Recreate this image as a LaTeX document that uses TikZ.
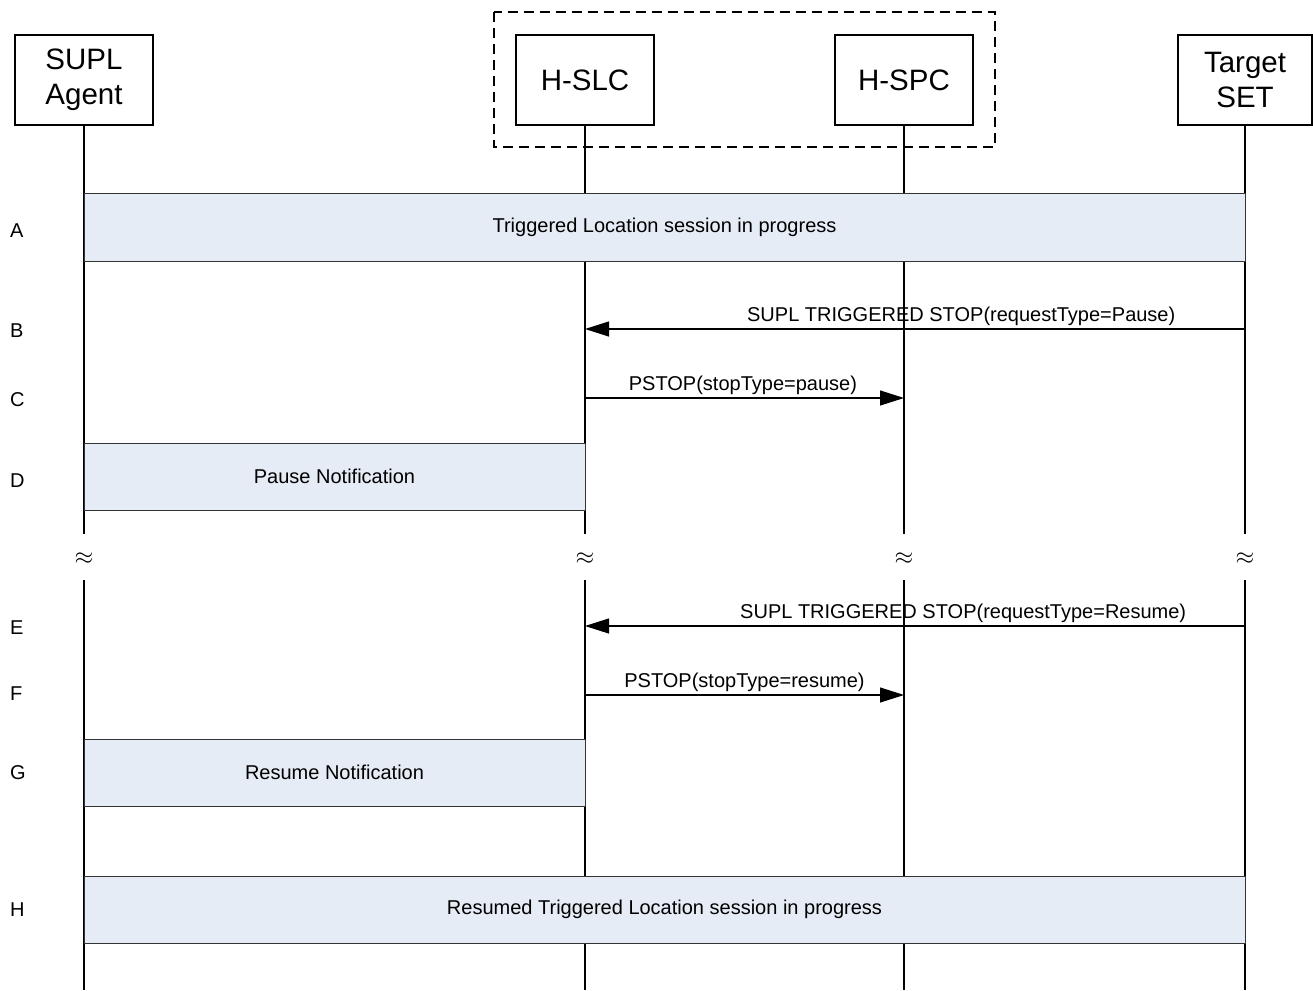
\documentclass[tikz,border=0pt]{standalone}
\usepackage{fontspec}
\usepackage{graphicx}
\setmainfont{Liberation Sans}
\usetikzlibrary{arrows.meta}
\definecolor{barfill}{RGB}{230,236,246}
\begin{document}
\begin{tikzpicture}[x=1pt,y=-1pt,
  actor/.style={draw, line width=1.2pt, minimum width=138pt, minimum height=90pt, align=center, inner sep=0pt, outer sep=0pt, font=\fontsize{29.5}{35}\selectfont},
  life/.style={line width=1.2pt},
  bar/.style={draw=black!80, line width=0.8pt, fill=barfill, inner sep=0pt, outer sep=0pt, font=\fontsize{20}{22}\selectfont},
  msg/.style={line width=1.2pt, -{Triangle[length=24pt,width=15pt]}},
  mlabel/.style={font=\fontsize{20}{22}\selectfont, above, inner sep=3pt},
  steplbl/.style={font=\fontsize{20}{22}\selectfont, anchor=west, inner sep=0pt},
  brk/.style={inner sep=0pt},
  groupbox/.style={draw, dashed, dash pattern=on 10pt off 6pt, line width=1.2pt}
]
\useasboundingbox (0,0) rectangle (1313,990);

% dashed group
\draw[groupbox] (494,12) rectangle (995,147);

% actors
\node[actor] (sa) at (84,80) {SUPL\\Agent};
\node[actor] (slc) at (585,80) {H-SLC};
\node[actor] (spc) at (904,80) {H-SPC};
\node[actor, minimum width=134pt] (set) at (1245,80) {Target\\SET};

% lifeline break coordinates
\foreach \n/\x in {sa/84, slc/585, spc/904, set/1245}{
  \coordinate (\n-a) at (\x,534);
  \coordinate (\n-b) at (\x,580);
  \coordinate (\n-e) at (\x,990);
  \node[brk] (\n-brk) at (\x,559) {\scalebox{2.4}{$\approx$}};
}
\draw[life] (sa.south) -- (sa-a) (sa-b) -- (sa-e);
\draw[life] (slc.south) -- (slc-a) (slc-b) -- (slc-e);
\draw[life] (spc.south) -- (spc-a) (spc-b) -- (spc-e);
\draw[life] (set.south) -- (set-a) (set-b) -- (set-e);

% bars
\node[bar, minimum width=1161pt, minimum height=68pt] (barA) at (664.5,227) {Triggered Location session in progress};
\node[bar, minimum width=501pt, minimum height=67pt] (barD) at (334.5,476.5) {Pause Notification};
\node[bar, minimum width=501pt, minimum height=67pt] (barG) at (334.5,772.5) {Resume Notification};
\node[bar, minimum width=1161pt, minimum height=67pt] (barH) at (664.5,909.5) {Resumed Triggered Location session in progress};

% messages
\coordinate (b1) at (1245,329); \coordinate (b2) at (585,329);
\coordinate (c1) at (585,398); \coordinate (c2) at (904,398);
\coordinate (e1) at (1245,626); \coordinate (e2) at (585,626);
\coordinate (f1) at (585,695); \coordinate (f2) at (904,695);
\draw[msg] (b1) -- node[mlabel, pos=0.43] {SUPL TRIGGERED STOP(requestType=Pause)} (b2);
\draw[msg] (c1) -- node[mlabel, pos=0.495] {PSTOP(stopType=pause)} (c2);
\draw[msg] (e1) -- node[mlabel, pos=0.427] {SUPL TRIGGERED STOP(requestType=Resume)} (e2);
\draw[msg] (f1) -- node[mlabel, pos=0.5] {PSTOP(stopType=resume)} (f2);

% step labels
\node[steplbl] (lA) at (10,231) {A};
\node[steplbl] (lB) at (10,331) {B};
\node[steplbl] (lC) at (10,400) {C};
\node[steplbl] (lD) at (10,481) {D};
\node[steplbl] (lE) at (10,628) {E};
\node[steplbl] (lF) at (10,694) {F};
\node[steplbl] (lG) at (10,773) {G};
\node[steplbl] (lH) at (10,910) {H};
\end{tikzpicture}
\end{document}
